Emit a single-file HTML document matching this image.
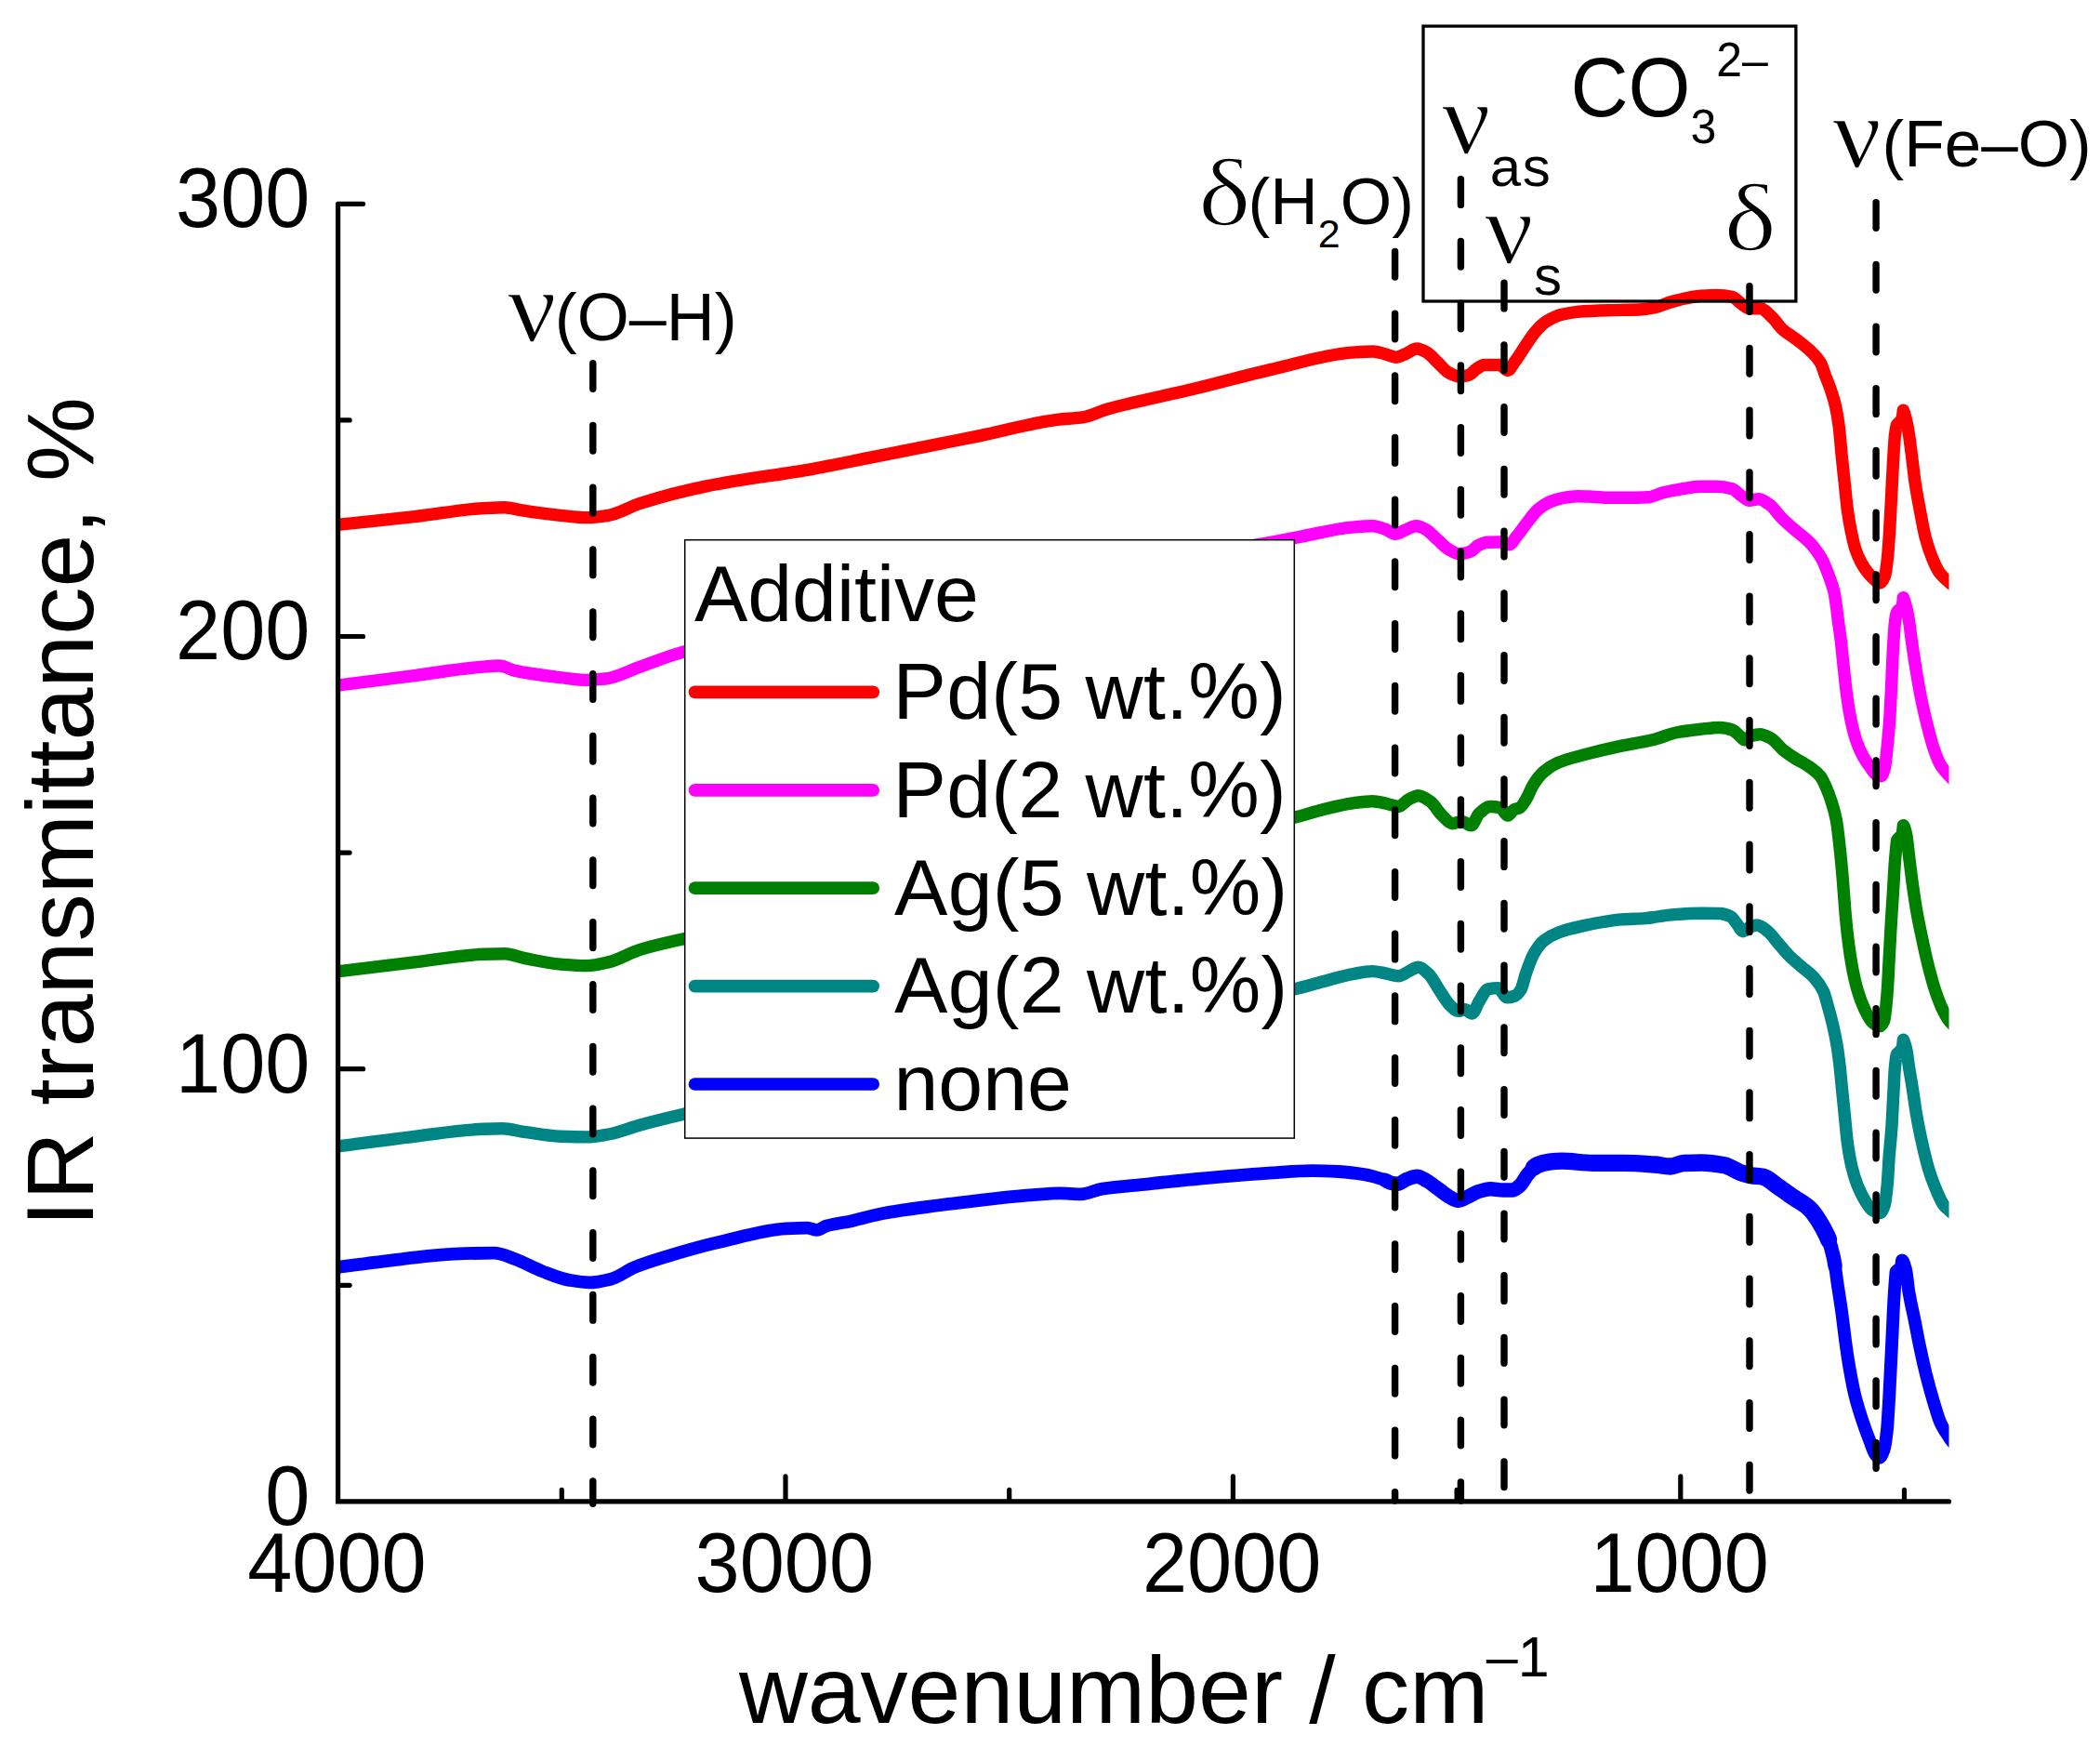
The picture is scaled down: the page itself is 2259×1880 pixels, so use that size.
<!DOCTYPE html>
<html lang="en"><head><meta charset="utf-8"><title>IR transmittance spectra</title>
<style>html,body{margin:0;padding:0;background:#fff}body{width:2259px;height:1880px;overflow:hidden}svg{display:block}text{font-family:"Liberation Sans",sans-serif;fill:#000}.gr{font-family:"Liberation Serif","DejaVu Serif",serif}</style></head><body>
<svg width="2259" height="1880" viewBox="0 0 2259 1880">
<rect width="2259" height="1880" fill="#fff"/>
<defs><clipPath id="plot"><rect x="361.0" y="0" width="1735.5" height="1880"/></clipPath></defs>
<g clip-path="url(#plot)" fill="none" stroke-linejoin="round" stroke-linecap="butt" stroke-width="13.4">
<path stroke="#ff0000" d="M360.0 564.6C361.0 564.5 362.0 564.4 363.0 564.3C390.6 561.5 418.1 558.8 445.7 555.7C470.5 552.9 495.2 548.0 520.0 546.6C527.6 546.2 535.3 545.7 542.9 545.7C548.6 545.7 554.3 547.7 560.0 548.6C574.3 550.8 588.6 552.9 602.9 554.3C612.4 555.2 621.9 556.6 631.4 556.6C639.0 556.6 646.7 555.5 654.3 554.3C665.7 552.6 677.2 545.0 688.6 541.4C712.4 533.9 736.2 527.7 760.0 522.9C798.1 515.1 836.2 511.1 874.3 504.3C896.2 500.4 918.1 495.7 940.0 491.4C978.1 483.9 1016.2 476.4 1054.3 468.6C1081.9 463.0 1109.5 454.9 1137.1 451.4C1146.6 450.2 1156.2 450.1 1165.7 448.6C1174.3 447.3 1182.8 442.4 1191.4 440.0C1221.9 431.3 1252.4 426.0 1282.9 418.6C1311.5 411.7 1340.0 403.6 1368.6 397.1C1397.2 390.6 1425.7 381.1 1454.3 379.1C1461.9 378.6 1469.5 378.0 1477.1 378.0C1481.4 378.0 1485.7 379.7 1490.0 380.8C1493.9 381.8 1497.8 384.2 1501.7 384.2C1505.0 384.2 1508.4 382.1 1511.7 380.8C1515.9 379.2 1520.0 375.0 1524.2 375.0C1527.8 375.0 1531.4 377.2 1535.0 379.2C1538.9 381.3 1542.8 386.4 1546.7 390.0C1550.6 393.6 1554.4 398.8 1558.3 400.8C1562.2 402.8 1566.1 405.0 1570.0 405.0C1573.3 405.0 1576.7 404.3 1580.0 403.3C1582.8 402.5 1585.5 398.4 1588.3 396.7C1591.1 395.0 1593.9 392.5 1596.7 392.5C1602.2 392.5 1607.8 392.5 1613.3 392.5C1616.1 392.5 1618.9 398.3 1621.7 398.3C1624.5 398.3 1627.2 392.0 1630.0 388.3C1633.3 383.9 1636.7 378.2 1640.0 373.3C1643.9 367.6 1647.8 361.1 1651.7 356.7C1655.6 352.3 1659.4 348.2 1663.3 345.8C1668.9 342.3 1674.4 339.7 1680.0 338.3C1685.6 336.9 1691.1 335.8 1696.7 335.3C1707.8 334.4 1718.9 334.0 1730.0 333.7C1741.1 333.4 1752.2 333.4 1763.3 333.0C1768.9 332.8 1774.4 331.9 1780.0 330.8C1785.6 329.7 1791.1 326.6 1796.7 325.0C1802.2 323.4 1807.8 321.8 1813.3 320.8C1818.9 319.8 1824.4 318.7 1830.0 318.3C1835.6 317.9 1841.1 317.5 1846.7 317.5C1852.2 317.5 1857.8 318.1 1863.3 319.2C1866.6 319.8 1870.0 324.5 1873.3 326.7C1876.1 328.6 1878.9 331.7 1881.7 331.7C1885.6 331.7 1889.4 331.7 1893.3 331.7C1897.8 331.7 1902.2 337.6 1906.7 341.7C1910.6 345.2 1914.4 351.6 1918.3 355.0C1922.2 358.4 1926.1 360.4 1930.0 363.3C1935.6 367.5 1941.1 371.4 1946.7 376.7C1950.6 380.4 1954.4 383.5 1958.3 390.0C1960.0 392.8 1961.6 398.9 1963.3 403.3C1965.3 408.7 1967.4 413.2 1969.4 419.3C1971.1 424.5 1972.9 429.5 1974.6 437.2C1975.8 442.7 1977.1 449.9 1978.3 459.5C1979.2 466.8 1980.2 479.8 1981.1 489.2C1982.1 499.6 1983.2 509.2 1984.2 519.0C1985.3 529.1 1986.3 541.0 1987.4 548.7C1988.7 557.9 1989.9 564.8 1991.2 571.0C1992.7 578.5 1994.3 585.6 1995.8 590.3C1997.9 596.8 2000.1 601.3 2002.2 605.2C2004.9 610.1 2007.6 613.9 2010.3 617.1C2012.8 620.0 2015.2 622.8 2017.7 624.5C2019.2 625.5 2020.7 627.0 2022.2 627.0C2023.9 627.0 2025.7 624.1 2027.4 620.0C2028.4 617.6 2029.4 609.6 2030.4 600.7C2031.1 594.2 2031.9 582.5 2032.6 571.0C2033.3 560.5 2033.9 546.5 2034.6 533.8C2035.2 521.7 2035.9 507.1 2036.5 496.7C2037.2 485.2 2037.9 472.0 2038.6 466.9C2039.3 461.8 2040.0 456.7 2040.7 456.5C2042.6 454.6 2044.4 452.7 2046.3 450.8C2046.6 447.6 2047.0 444.4 2047.3 441.2C2048.4 443.7 2049.6 447.8 2050.7 452.5C2051.6 456.2 2052.5 461.3 2053.4 466.9C2054.4 473.1 2055.4 481.5 2056.4 489.2C2057.6 498.7 2058.9 510.7 2060.1 519.0C2061.8 530.7 2063.6 539.5 2065.3 548.7C2067.3 559.3 2069.3 570.8 2071.3 578.4C2073.8 587.7 2076.2 594.7 2078.7 600.7C2081.2 606.7 2083.6 612.2 2086.1 615.6C2089.6 620.3 2093.0 623.1 2096.5 626.0C2098.3 627.5 2100.2 628.8 2102.0 630.0"/>
<path stroke="#ff00ff" d="M360.0 737.5C361.0 737.4 362.0 737.2 363.0 737.1C390.6 733.5 418.1 730.1 445.7 726.6C470.5 723.4 495.2 719.1 520.0 717.1C525.7 716.6 531.4 716.0 537.1 716.0C542.8 716.0 548.6 720.2 554.3 721.4C570.5 724.9 586.7 726.7 602.9 728.6C612.4 729.7 621.9 731.4 631.4 731.4C638.1 731.4 644.7 730.7 651.4 730.0C663.8 728.6 676.2 721.4 688.6 717.1C703.8 711.8 719.1 705.5 734.3 701.4C789.5 686.6 844.8 678.5 900.0 668.0C966.7 655.3 1033.3 643.8 1100.0 632.0C1150.0 623.2 1200.0 615.2 1250.0 606.0C1283.8 599.8 1317.6 592.7 1351.4 586.2C1366.6 583.3 1381.9 580.4 1397.1 577.6C1416.2 574.1 1435.2 568.7 1454.3 567.1C1461.9 566.4 1469.5 565.7 1477.1 565.7C1481.4 565.7 1485.7 567.7 1490.0 569.2C1493.6 570.4 1497.2 574.2 1500.8 574.2C1504.4 574.2 1508.1 571.4 1511.7 570.0C1515.6 568.6 1519.4 565.8 1523.3 565.8C1526.6 565.8 1530.0 567.6 1533.3 569.2C1537.8 571.3 1542.2 576.9 1546.7 580.8C1550.6 584.1 1554.4 588.6 1558.3 590.8C1562.2 593.0 1566.1 595.8 1570.0 595.8C1573.9 595.8 1577.8 594.7 1581.7 593.3C1584.5 592.3 1587.2 588.0 1590.0 586.7C1593.3 585.1 1596.7 583.4 1600.0 583.3C1604.4 583.1 1608.9 583.0 1613.3 583.0C1616.6 583.0 1620.0 585.8 1623.3 585.8C1626.1 585.8 1628.9 580.0 1631.7 576.7C1635.0 572.7 1638.4 567.5 1641.7 563.3C1646.1 557.7 1650.6 551.2 1655.0 547.5C1658.9 544.3 1662.8 541.7 1666.7 540.0C1671.1 538.1 1675.6 536.6 1680.0 535.8C1685.6 534.8 1691.1 533.7 1696.7 533.7C1702.2 533.7 1707.8 534.0 1713.3 534.2C1718.9 534.4 1724.4 535.3 1730.0 535.3C1735.6 535.3 1741.1 535.3 1746.7 535.3C1755.6 535.3 1764.4 535.1 1773.3 534.7C1778.3 534.5 1783.3 531.2 1788.3 530.0C1793.9 528.6 1799.4 527.6 1805.0 526.7C1813.3 525.3 1821.7 523.3 1830.0 523.3C1835.6 523.3 1841.1 523.3 1846.7 523.3C1852.2 523.3 1857.8 524.3 1863.3 525.8C1866.6 526.7 1870.0 531.1 1873.3 533.3C1876.1 535.2 1878.9 538.3 1881.7 538.3C1885.0 538.3 1888.4 536.7 1891.7 536.7C1895.6 536.7 1899.4 539.9 1903.3 542.5C1907.8 545.5 1912.2 552.9 1916.7 557.3C1921.1 561.7 1925.6 565.4 1930.0 569.3C1935.6 574.2 1941.1 577.8 1946.7 583.5C1948.8 585.6 1950.9 588.2 1953.0 591.0C1955.2 593.9 1957.4 597.0 1959.6 601.0C1961.1 603.6 1962.5 607.0 1964.0 610.5C1965.2 613.4 1966.4 616.6 1967.6 620.0C1969.3 624.9 1971.1 628.6 1972.8 636.0C1973.7 639.7 1974.5 645.9 1975.4 652.0C1976.1 656.7 1976.7 662.9 1977.4 668.0C1978.4 675.4 1979.3 681.2 1980.3 689.2C1981.3 697.8 1982.4 709.5 1983.4 719.0C1984.5 729.4 1985.7 740.6 1986.8 748.7C1988.3 759.4 1989.8 768.4 1991.3 775.5C1993.1 784.0 1994.9 791.0 1996.7 796.3C1999.3 803.8 2001.8 809.4 2004.4 814.1C2007.1 818.9 2009.7 822.5 2012.4 826.0C2014.5 828.8 2016.7 832.5 2018.8 833.5C2020.3 834.2 2021.9 834.9 2023.4 834.9C2024.7 834.9 2026.1 830.8 2027.4 826.0C2028.4 822.4 2029.4 810.6 2030.4 800.7C2031.2 792.4 2032.1 783.5 2032.9 771.0C2033.5 761.5 2034.2 746.9 2034.8 733.8C2035.4 722.1 2035.9 706.3 2036.5 696.7C2037.2 684.8 2037.9 673.0 2038.6 668.0C2039.3 663.0 2040.0 658.1 2040.7 657.8C2042.6 655.9 2044.5 654.1 2046.4 652.2C2046.7 649.0 2047.1 645.8 2047.4 642.6C2048.5 645.4 2049.7 649.4 2050.8 654.0C2051.7 657.5 2052.5 661.8 2053.4 666.9C2054.4 672.8 2055.4 682.2 2056.4 689.2C2057.9 699.7 2059.4 709.8 2060.9 719.0C2062.6 729.6 2064.4 740.0 2066.1 748.7C2068.3 759.9 2070.6 769.5 2072.8 778.4C2075.3 788.2 2077.7 798.1 2080.2 805.2C2082.7 812.3 2085.1 818.9 2087.6 823.0C2090.6 827.9 2093.5 830.7 2096.5 834.0C2098.3 836.0 2100.2 837.8 2102.0 839.5"/>
<path stroke="#008000" d="M360.0 1045.3C361.0 1045.2 362.0 1045.0 363.0 1044.9C390.6 1041.4 418.1 1038.2 445.7 1034.9C470.5 1032.0 495.2 1027.3 520.0 1026.3C527.6 1026.0 535.3 1025.7 542.9 1025.7C550.5 1025.7 558.1 1029.4 565.7 1030.9C578.1 1033.3 590.5 1036.1 602.9 1037.1C612.4 1037.8 621.9 1038.6 631.4 1038.6C639.0 1038.6 646.7 1036.6 654.3 1034.9C665.7 1032.4 677.2 1024.9 688.6 1021.4C703.8 1016.7 719.1 1013.5 734.3 1010.0C789.5 997.2 844.8 986.4 900.0 975.0C966.7 961.3 1033.3 948.1 1100.0 935.0C1150.0 925.2 1200.0 915.5 1250.0 906.0C1297.4 897.0 1344.8 890.4 1392.2 879.3C1402.4 876.9 1412.7 873.2 1422.9 870.7C1433.6 868.1 1444.3 865.3 1455.0 863.9C1462.1 862.9 1469.3 861.7 1476.4 861.7C1481.4 861.7 1486.4 863.3 1491.4 864.3C1495.7 865.2 1500.0 867.5 1504.3 867.5C1507.9 867.5 1511.4 861.8 1515.0 860.0C1518.6 858.2 1522.1 855.7 1525.7 855.7C1530.0 855.7 1534.3 859.1 1538.6 862.1C1542.9 865.1 1547.1 873.1 1551.4 877.1C1555.0 880.5 1558.5 885.7 1562.1 885.7C1565.7 885.7 1569.3 883.6 1572.9 883.6C1576.1 883.6 1579.3 887.9 1582.5 887.9C1585.4 887.9 1588.2 877.6 1591.1 875.0C1595.0 871.4 1599.0 867.5 1602.9 867.5C1606.5 867.5 1610.0 867.9 1613.6 868.6C1616.4 869.1 1619.3 877.1 1622.1 877.1C1624.3 877.1 1626.4 871.8 1628.6 870.7C1630.7 869.7 1632.9 869.7 1635.0 868.6C1637.1 867.5 1639.3 863.4 1641.4 860.0C1644.3 855.4 1647.1 847.2 1650.0 842.9C1653.6 837.5 1657.1 833.0 1660.7 830.0C1665.7 825.7 1670.7 822.6 1675.7 820.4C1684.3 816.7 1692.8 814.7 1701.4 812.4C1715.7 808.5 1730.0 805.1 1744.3 802.1C1755.0 799.9 1765.7 798.6 1776.4 796.1C1785.9 793.9 1795.5 789.2 1805.0 787.5C1813.3 786.0 1821.7 785.1 1830.0 784.2C1836.7 783.5 1843.3 782.5 1850.0 782.5C1854.4 782.5 1858.9 783.6 1863.3 785.0C1866.1 785.9 1868.9 789.4 1871.7 791.7C1873.4 793.0 1875.0 795.8 1876.7 795.8C1878.9 795.8 1881.1 792.4 1883.3 791.7C1886.6 790.7 1890.0 789.7 1893.3 789.7C1897.2 789.7 1901.1 792.1 1905.0 794.2C1909.4 796.6 1913.9 803.1 1918.3 806.7C1922.2 809.8 1926.1 812.5 1930.0 815.0C1935.6 818.6 1941.1 821.0 1946.7 825.0C1950.6 827.8 1954.4 830.2 1958.3 835.0C1960.5 837.8 1962.8 843.2 1965.0 848.3C1966.5 851.7 1967.9 855.5 1969.4 860.0C1971.4 866.1 1973.4 871.8 1975.4 882.3C1976.6 888.8 1977.9 900.8 1979.1 912.0C1980.1 920.8 1981.0 930.6 1982.0 941.8C1982.9 952.6 1983.9 968.4 1984.8 979.0C1985.8 990.4 1986.8 1000.5 1987.8 1008.7C1989.2 1020.5 1990.7 1030.6 1992.1 1038.4C1994.1 1049.5 1996.2 1058.4 1998.2 1065.2C2000.8 1073.9 2003.4 1080.6 2006.0 1086.0C2008.7 1091.5 2011.3 1097.1 2014.0 1099.4C2016.6 1101.6 2019.2 1103.9 2021.8 1103.9C2023.4 1103.9 2025.1 1101.6 2026.7 1097.9C2027.8 1095.3 2029.0 1081.8 2030.1 1068.2C2030.8 1059.8 2031.5 1043.7 2032.2 1031.0C2032.9 1018.9 2033.5 1005.1 2034.2 993.8C2035.0 980.3 2035.8 969.5 2036.6 956.7C2037.2 947.1 2037.8 934.5 2038.4 926.9C2039.2 917.1 2039.9 908.6 2040.7 903.5C2042.6 901.4 2044.5 899.4 2046.4 897.3C2046.7 894.1 2047.1 890.9 2047.4 887.7C2048.6 888.1 2049.7 893.5 2050.9 899.0C2051.7 903.0 2052.6 912.7 2053.4 919.5C2054.6 929.5 2055.9 940.2 2057.1 949.2C2058.6 960.1 2060.1 970.4 2061.6 979.0C2063.6 990.3 2065.5 999.4 2067.5 1008.7C2069.7 1019.2 2072.0 1029.5 2074.2 1038.4C2076.7 1048.3 2079.2 1057.7 2081.7 1065.2C2084.2 1072.6 2086.6 1079.3 2089.1 1084.5C2091.6 1089.7 2094.0 1094.4 2096.5 1097.5C2098.3 1099.8 2100.2 1101.8 2102.0 1103.0"/>
<path stroke="#008585" d="M360.0 1233.3C361.0 1233.2 362.0 1233.0 363.0 1232.9C390.6 1229.3 418.1 1225.5 445.7 1222.3C470.5 1219.4 495.2 1215.3 520.0 1214.3C526.7 1214.0 533.3 1213.7 540.0 1213.7C548.6 1213.7 557.1 1216.5 565.7 1217.7C578.1 1219.4 590.5 1221.9 602.9 1222.3C612.4 1222.6 621.9 1222.9 631.4 1222.9C639.0 1222.9 646.7 1221.3 654.3 1220.0C665.7 1218.0 677.2 1213.1 688.6 1210.0C703.8 1205.9 719.1 1202.2 734.3 1198.6C789.5 1185.5 844.8 1173.6 900.0 1162.0C966.7 1148.0 1033.3 1135.3 1100.0 1122.0C1150.0 1112.0 1200.0 1101.9 1250.0 1092.0C1297.4 1082.6 1344.8 1075.0 1392.2 1063.9C1402.4 1061.5 1412.7 1058.4 1422.9 1055.7C1433.6 1052.9 1444.3 1049.5 1455.0 1047.6C1462.1 1046.3 1469.3 1044.6 1476.4 1044.6C1481.4 1044.6 1486.4 1046.2 1491.4 1047.1C1495.7 1047.9 1500.0 1049.7 1504.3 1049.7C1507.9 1049.7 1511.4 1046.6 1515.0 1045.0C1518.6 1043.4 1522.1 1040.3 1525.7 1040.3C1529.3 1040.3 1532.8 1044.0 1536.4 1047.1C1540.7 1050.9 1545.0 1060.2 1549.3 1066.4C1552.9 1071.6 1556.4 1078.1 1560.0 1081.4C1562.9 1084.0 1565.7 1087.4 1568.6 1087.4C1571.1 1087.4 1573.6 1085.7 1576.1 1085.7C1578.6 1085.7 1581.1 1090.0 1583.6 1090.0C1586.1 1090.0 1588.6 1080.9 1591.1 1077.1C1594.3 1072.2 1597.5 1064.6 1600.7 1063.9C1604.3 1063.1 1607.8 1062.6 1611.4 1062.6C1614.6 1062.6 1617.9 1072.9 1621.1 1072.9C1623.9 1072.9 1626.8 1072.1 1629.6 1071.1C1631.7 1070.3 1633.9 1067.7 1636.0 1064.3C1637.8 1061.4 1639.6 1052.2 1641.4 1047.1C1644.3 1039.0 1647.1 1030.6 1650.0 1025.7C1653.6 1019.5 1657.1 1014.7 1660.7 1011.8C1665.7 1007.7 1670.7 1005.1 1675.7 1003.2C1684.3 999.9 1692.8 997.9 1701.4 996.1C1715.7 993.1 1730.0 990.0 1744.3 988.9C1752.9 988.3 1761.4 988.2 1770.0 987.6C1779.3 986.9 1788.6 984.6 1797.9 983.9C1808.6 983.1 1819.3 982.2 1830.0 982.2C1836.7 982.2 1843.3 982.3 1850.0 982.5C1853.9 982.6 1857.8 983.9 1861.7 985.8C1863.9 986.9 1866.1 990.7 1868.3 993.3C1870.5 996.0 1872.8 1001.7 1875.0 1001.7C1877.2 1001.7 1879.5 998.4 1881.7 997.5C1884.5 996.4 1887.2 995.0 1890.0 995.0C1893.9 995.0 1897.8 998.7 1901.7 1001.7C1905.6 1004.7 1909.4 1010.6 1913.3 1015.0C1917.2 1019.5 1921.1 1024.4 1925.0 1028.3C1929.4 1032.7 1933.9 1036.1 1938.3 1040.0C1942.8 1043.9 1947.2 1046.7 1951.7 1051.7C1955.0 1055.4 1958.4 1059.4 1961.7 1066.7C1963.0 1069.6 1964.4 1075.3 1965.7 1080.0C1967.7 1086.9 1969.6 1093.8 1971.6 1102.3C1973.1 1108.8 1974.6 1115.6 1976.1 1124.6C1977.1 1130.6 1978.1 1138.3 1979.1 1146.9C1979.8 1153.2 1980.6 1161.8 1981.3 1169.2C1982.3 1179.2 1983.3 1189.1 1984.3 1199.0C1985.3 1208.9 1986.3 1221.4 1987.3 1228.7C1988.9 1240.4 1990.5 1249.0 1992.1 1255.5C1994.3 1264.5 1996.5 1270.9 1998.7 1276.3C2001.2 1282.4 2003.7 1287.2 2006.2 1291.2C2008.8 1295.4 2011.4 1300.2 2014.0 1301.6C2016.8 1303.1 2019.6 1304.5 2022.4 1304.5C2024.0 1304.5 2025.7 1300.6 2027.3 1295.6C2028.3 1292.5 2029.3 1283.7 2030.3 1273.3C2030.9 1266.7 2031.6 1252.0 2032.2 1243.6C2033.1 1232.0 2033.9 1226.2 2034.8 1213.8C2035.5 1204.3 2036.1 1188.7 2036.8 1176.7C2037.4 1166.5 2037.9 1152.1 2038.5 1146.9C2039.2 1140.1 2040.0 1133.5 2040.7 1133.5C2042.6 1131.6 2044.5 1129.6 2046.4 1127.7C2046.7 1124.5 2047.1 1121.3 2047.4 1118.1C2048.6 1119.4 2049.7 1124.2 2050.9 1129.5C2051.7 1133.3 2052.6 1141.5 2053.4 1146.9C2054.6 1154.9 2055.9 1161.4 2057.1 1169.2C2058.6 1178.7 2060.1 1190.4 2061.6 1199.0C2063.6 1210.3 2065.5 1219.9 2067.5 1228.7C2070.0 1239.8 2072.5 1250.3 2075.0 1258.4C2077.7 1267.2 2080.5 1274.4 2083.2 1280.7C2085.7 1286.4 2088.1 1292.3 2090.6 1295.6C2092.6 1298.2 2094.5 1299.7 2096.5 1301.5C2098.3 1303.1 2100.2 1304.7 2102.0 1306.0"/>
<path stroke="#0000ff" stroke-width="13.8" d="M360.0 1363.3C361.0 1363.2 362.0 1363.0 363.0 1362.9C385.8 1359.9 408.6 1356.8 431.4 1354.3C450.5 1352.2 469.5 1349.2 488.6 1348.6C502.9 1348.1 517.1 1347.7 531.4 1347.7C539.0 1347.7 546.7 1351.6 554.3 1354.3C563.8 1357.6 573.4 1363.5 582.9 1367.1C592.4 1370.7 601.9 1374.9 611.4 1376.6C619.0 1377.9 626.7 1379.4 634.3 1379.4C641.9 1379.4 649.5 1377.5 657.1 1375.7C665.7 1373.6 674.3 1366.4 682.9 1362.9C694.3 1358.3 705.7 1354.9 717.1 1351.4C736.2 1345.6 755.2 1340.1 774.3 1335.7C798.1 1330.2 821.9 1322.7 845.7 1321.4C853.3 1321.0 861.0 1320.6 868.6 1320.6C871.9 1320.6 875.3 1322.9 878.6 1322.9C881.9 1322.9 885.3 1319.6 888.6 1318.6C898.1 1315.8 907.6 1315.0 917.1 1312.9C928.1 1310.5 939.0 1307.0 950.0 1305.0C975.2 1300.4 1000.5 1297.4 1025.7 1294.3C1054.3 1290.8 1082.8 1287.2 1111.4 1285.1C1120.9 1284.4 1130.5 1283.4 1140.0 1283.4C1147.6 1283.4 1155.3 1284.3 1162.9 1284.3C1170.5 1284.3 1178.1 1279.8 1185.7 1278.6C1199.0 1276.5 1212.4 1275.7 1225.7 1274.3C1249.5 1271.8 1273.3 1269.2 1297.1 1267.1C1320.9 1265.0 1344.8 1262.9 1368.6 1261.4C1382.9 1260.5 1397.1 1259.1 1411.4 1259.1C1420.9 1259.1 1430.5 1259.5 1440.0 1260.0C1449.5 1260.5 1459.1 1261.8 1468.6 1263.4C1475.3 1264.5 1481.9 1266.7 1488.6 1268.6C1493.5 1270.0 1498.4 1273.3 1503.3 1273.3C1506.6 1273.3 1510.0 1269.5 1513.3 1268.3C1516.9 1267.0 1520.6 1265.3 1524.2 1265.3C1527.8 1265.3 1531.4 1268.1 1535.0 1270.0C1538.9 1272.1 1542.8 1275.5 1546.7 1278.3C1550.6 1281.1 1554.4 1284.5 1558.3 1286.7C1561.6 1288.6 1565.0 1291.3 1568.3 1291.3C1571.6 1291.3 1575.0 1288.9 1578.3 1287.5C1582.2 1285.8 1586.1 1282.9 1590.0 1281.7C1594.4 1280.3 1598.9 1278.7 1603.3 1278.7C1607.8 1278.7 1612.2 1280.0 1616.7 1280.0C1620.0 1280.0 1623.4 1280.0 1626.7 1280.0C1629.5 1280.0 1632.2 1277.3 1635.0 1275.0C1637.8 1272.7 1640.5 1266.6 1643.3 1263.3C1646.6 1259.4 1650.0 1254.8 1653.3 1253.3C1657.8 1251.4 1662.2 1250.2 1666.7 1249.7C1671.1 1249.2 1675.6 1248.7 1680.0 1248.7C1691.1 1248.7 1702.2 1250.8 1713.3 1250.8C1724.4 1250.8 1735.6 1250.8 1746.7 1250.8C1757.8 1250.8 1768.9 1251.7 1780.0 1252.5C1785.6 1252.9 1791.1 1254.5 1796.7 1254.5C1801.5 1254.5 1806.2 1251.2 1811.0 1251.0C1817.3 1250.7 1823.7 1250.5 1830.0 1250.5C1838.3 1250.5 1846.7 1251.7 1855.0 1253.3C1860.6 1254.3 1866.1 1258.9 1871.7 1260.8C1875.6 1262.2 1879.4 1263.5 1883.3 1264.2C1887.8 1265.0 1892.2 1264.9 1896.7 1265.8C1902.2 1266.9 1907.8 1273.0 1913.3 1276.7C1918.9 1280.5 1924.4 1284.4 1930.0 1288.3C1935.6 1292.2 1941.1 1294.8 1946.7 1300.0C1950.0 1303.1 1953.4 1308.1 1956.7 1313.3C1959.7 1318.0 1962.7 1322.8 1965.7 1330.0C1967.9 1335.4 1970.2 1342.1 1972.4 1352.3C1973.9 1359.0 1975.3 1372.2 1976.8 1382.0C1978.3 1392.0 1979.8 1400.9 1981.3 1411.8C1982.5 1420.8 1983.8 1432.5 1985.0 1441.5C1986.5 1452.4 1988.0 1462.7 1989.5 1471.3C1991.5 1482.6 1993.4 1493.0 1995.4 1501.0C1997.9 1511.2 2000.4 1518.6 2002.9 1526.3C2005.4 1533.9 2007.8 1540.7 2010.3 1547.1C2012.8 1553.5 2015.2 1562.1 2017.7 1564.9C2018.9 1566.3 2020.2 1567.9 2021.4 1567.9C2023.2 1567.9 2024.9 1564.0 2026.7 1559.0C2027.8 1556.0 2028.8 1548.2 2029.9 1538.2C2030.6 1532.0 2031.2 1519.7 2031.9 1508.4C2032.5 1497.7 2033.2 1484.0 2033.8 1471.3C2034.4 1459.2 2035.0 1446.5 2035.6 1434.1C2036.2 1421.7 2036.8 1406.7 2037.4 1396.9C2038.1 1384.9 2038.9 1374.4 2039.6 1367.5C2041.4 1365.8 2043.2 1364.2 2045.0 1362.5C2045.3 1360.2 2045.7 1357.8 2046.0 1355.5C2047.4 1355.5 2048.8 1360.7 2050.2 1366.0C2051.3 1370.1 2052.3 1383.1 2053.4 1389.5C2055.4 1401.6 2057.4 1409.2 2059.4 1419.2C2061.4 1429.0 2063.3 1439.7 2065.3 1449.0C2067.5 1459.6 2069.8 1469.8 2072.0 1478.7C2074.7 1489.6 2077.5 1499.4 2080.2 1508.4C2082.7 1516.5 2085.1 1525.3 2087.6 1530.7C2090.6 1537.1 2093.5 1541.2 2096.5 1545.6C2098.3 1548.3 2100.2 1550.8 2102.0 1553.0"/>
<path stroke="#0000ff" stroke-width="15.4" stroke-linecap="round" d="M1490.0 1269.1C1494.4 1272.5 1498.9 1273.3 1503.3 1273.3C1506.6 1273.3 1510.0 1269.5 1513.3 1268.3C1516.9 1267.0 1520.6 1265.3 1524.2 1265.3C1527.8 1265.3 1531.4 1268.1 1535.0 1270.0C1538.9 1272.1 1542.8 1275.5 1546.7 1278.3C1550.6 1281.1 1554.4 1284.5 1558.3 1286.7C1561.6 1288.6 1565.0 1291.3 1568.3 1291.3C1571.6 1291.3 1575.0 1288.9 1578.3 1287.5C1582.2 1285.8 1586.1 1282.9 1590.0 1281.7C1594.4 1280.3 1598.9 1278.7 1603.3 1278.7C1607.8 1278.7 1612.2 1280.0 1616.7 1280.0C1620.0 1280.0 1623.4 1280.0 1626.7 1280.0C1629.5 1280.0 1632.2 1277.3 1635.0 1275.0C1637.8 1272.7 1640.5 1266.6 1643.3 1263.3C1646.6 1259.4 1650.0 1254.8 1653.3 1253.3C1657.8 1251.4 1662.2 1250.2 1666.7 1249.7C1671.1 1249.2 1675.6 1248.7 1680.0 1248.7C1691.1 1248.7 1702.2 1250.8 1713.3 1250.8C1724.4 1250.8 1735.6 1250.8 1746.7 1250.8C1757.8 1250.8 1768.9 1251.7 1780.0 1252.5C1785.6 1252.9 1791.1 1254.5 1796.7 1254.5C1801.5 1254.5 1806.2 1251.2 1811.0 1251.0C1817.3 1250.7 1823.7 1250.5 1830.0 1250.5C1838.3 1250.5 1846.7 1251.7 1855.0 1253.3C1860.6 1254.3 1866.1 1258.9 1871.7 1260.8C1875.6 1262.2 1879.4 1263.5 1883.3 1264.2C1887.8 1265.0 1892.2 1264.9 1896.7 1265.8C1902.2 1266.9 1907.8 1273.0 1913.3 1276.7C1918.9 1280.5 1924.4 1284.4 1930.0 1288.3C1935.6 1292.2 1941.1 1294.8 1946.7 1300.0C1950.0 1303.1 1953.4 1308.1 1956.7 1313.3C1959.7 1318.0 1962.7 1322.8 1965.7 1330.0C1967.9 1335.4 1970.2 1342.2 1972.4 1352.3C1972.9 1354.7 1973.5 1358.3 1974.0 1361.7"/>
<path stroke="#0000ff" stroke-width="18.3" stroke-linecap="round" d="M1650.0 1255.6C1651.1 1254.8 1652.2 1253.8 1653.3 1253.3C1657.8 1251.4 1662.2 1250.2 1666.7 1249.7C1671.1 1249.2 1675.6 1248.7 1680.0 1248.7C1691.1 1248.7 1702.2 1250.8 1713.3 1250.8C1724.4 1250.8 1735.6 1250.8 1746.7 1250.8C1757.8 1250.8 1768.9 1251.7 1780.0 1252.5C1785.6 1252.9 1791.1 1254.5 1796.7 1254.5C1801.5 1254.5 1806.2 1251.2 1811.0 1251.0C1817.3 1250.7 1823.7 1250.5 1830.0 1250.5C1838.3 1250.5 1846.7 1251.7 1855.0 1253.3C1860.6 1254.3 1866.1 1258.9 1871.7 1260.8C1875.6 1262.2 1879.4 1263.5 1883.3 1264.2C1887.8 1265.0 1892.2 1264.9 1896.7 1265.8C1902.2 1266.9 1907.8 1273.0 1913.3 1276.7C1918.9 1280.5 1924.4 1284.4 1930.0 1288.3C1935.6 1292.2 1941.1 1294.8 1946.7 1300.0C1950.0 1303.1 1953.4 1308.1 1956.7 1313.3C1959.7 1318.0 1962.7 1323.3 1965.7 1330.0C1966.1 1331.0 1966.6 1332.2 1967.0 1333.3"/>
</g>
<g stroke="#000" stroke-width="5.2" stroke-linecap="round" fill="none">
<path d="M363.6 219.3V1614.9H2096.5" stroke-linejoin="miter"/>
<path d="M364.2 1149.7h26.4"/>
<path d="M364.2 684.5h26.4"/>
<path d="M364.2 219.3h26.4"/>
<path d="M364.2 1382.3h11.9"/>
<path d="M364.2 917.1h11.9"/>
<path d="M364.2 451.9h11.9"/>
<path d="M845.0 1614.3v-26.4"/>
<path d="M1326.4 1614.3v-26.4"/>
<path d="M1807.8 1614.3v-26.4"/>
<path d="M604.3 1614.3v-11.9"/>
<path d="M1085.7 1614.3v-11.9"/>
<path d="M1567.1 1614.3v-11.9"/>
<path d="M2048.5 1614.3v-11.9"/>
</g>
<g stroke="#000" stroke-width="7.4" stroke-linecap="round" fill="none">
<path stroke-dasharray="27.60 39.19" d="M637.8 390.7V1617.2"/>
<path stroke-dasharray="27.60 39.12" d="M1500.6 270.4V1614.0"/>
<path stroke-dasharray="27.60 39.12" d="M1571.4 192.8V1614.0"/>
<path stroke-dasharray="27.60 39.12" d="M1618.0 304.3V1614.0"/>
<path stroke-dasharray="27.60 39.12" d="M1882.0 307.7V1614.0"/>
<path stroke-dasharray="27.60 39.10" d="M2018.1 217.7V1614.0"/>
</g>
<rect x="1531" y="28.1" width="400.9" height="295.9" fill="none" stroke="#000" stroke-width="3.3"/>
<rect x="736.7" y="580.7" width="655.6" height="643.4" fill="#fff" stroke="#000" stroke-width="1.5"/>
<g stroke-width="13.7" stroke-linecap="round">
<path stroke="#ff0000" d="M747.5 744.4H939.2"/>
<path stroke="#ff00ff" d="M747.5 849.8H939.2"/>
<path stroke="#008000" d="M747.5 955.2H939.2"/>
<path stroke="#008585" d="M747.5 1060.6H939.2"/>
<path stroke="#0000ff" d="M747.5 1166.0H939.2"/>
</g>
<text font-size="86" x="746.9" y="668.3">Additive</text>
<text font-size="86" x="960.5" y="773.3" letter-spacing="0.3">Pd(5 wt.%)</text>
<text font-size="86" x="960.5" y="878.5" letter-spacing="0.3">Pd(2 wt.%)</text>
<text font-size="86" x="962.0" y="983.7" letter-spacing="0.3">Ag(5 wt.%)</text>
<text font-size="86" x="962.0" y="1088.9" letter-spacing="0.3">Ag(2 wt.%)</text>
<text font-size="86" x="961.5" y="1194.1">none</text>
<text font-size="86.5" text-anchor="end" transform="translate(333.4 1639.8) scale(1.000 1.047)">0</text>
<text font-size="86.5" text-anchor="end" transform="translate(333.4 1174.6) scale(1.000 1.047)">100</text>
<text font-size="86.5" text-anchor="end" transform="translate(333.4 709.4) scale(1.000 1.047)">200</text>
<text font-size="86.5" text-anchor="end" transform="translate(333.4 244.2) scale(1.000 1.047)">300</text>
<text font-size="86.5" text-anchor="middle" transform="translate(362.4 1711.6) scale(1.000 1.047)">4000</text>
<text font-size="86.5" text-anchor="middle" transform="translate(843.8 1711.6) scale(1.000 1.047)">3000</text>
<text font-size="86.5" text-anchor="middle" transform="translate(1325.2 1711.6) scale(1.000 1.047)">2000</text>
<text font-size="86.5" text-anchor="middle" transform="translate(1806.6 1711.6) scale(1.000 1.047)">1000</text>
<text font-size="102.2" x="794.9" y="1853.3">wavenumber / cm<tspan font-size="61" dx="-2.5" dy="-50.8">–1</tspan></text>
<text font-size="102.3" text-anchor="middle" transform="translate(100 873.2) rotate(-90)">IR transmittance, %</text>
<text font-size="109.1" class="gr" transform="translate(546.1 366.5) scale(1.065 1.000)" stroke="#fff" stroke-width="1.4">ν</text>
<text font-size="72" x="596.7" y="365.6">(O–H)</text>
<text font-size="100.2" class="gr" transform="translate(1288.9 241.9) scale(1.197 1.020)" stroke="#fff" stroke-width="1.6">δ</text>
<text font-size="71.3" x="1342.6" y="240.7">(H<tspan font-size="43" dy="25.5">2</tspan><tspan dy="-25.5">O)</tspan></text>
<text font-size="86" transform="translate(1689.5 125.4) scale(1.000 1.060)">CO</text>
<text font-size="50" transform="translate(1818.5 154.0) scale(1.000 1.020)">3</text>
<text font-size="50" transform="translate(1846.3 82.0) scale(1.000 1.020)">2–</text>
<text font-size="109.1" class="gr" transform="translate(1551.0 165.2) scale(1.065 1.000)" stroke="#fff" stroke-width="1.4">ν</text>
<text font-size="60" x="1602.8" y="199.8" letter-spacing="1.5">as</text>
<text font-size="109.1" class="gr" transform="translate(1597.1 283.0) scale(1.065 1.000)" stroke="#fff" stroke-width="1.4">ν</text>
<text font-size="60" x="1650.0" y="317.2">s</text>
<text font-size="100.2" class="gr" transform="translate(1854.5 269.0) scale(1.197 1.020)" stroke="#fff" stroke-width="1.6">δ</text>
<text font-size="109.1" class="gr" transform="translate(1971.3 180.3) scale(1.065 1.000)" stroke="#fff" stroke-width="1.4">ν</text>
<text font-size="71.1" x="2024.6" y="178.7">(Fe–O)</text>
</svg></body></html>
